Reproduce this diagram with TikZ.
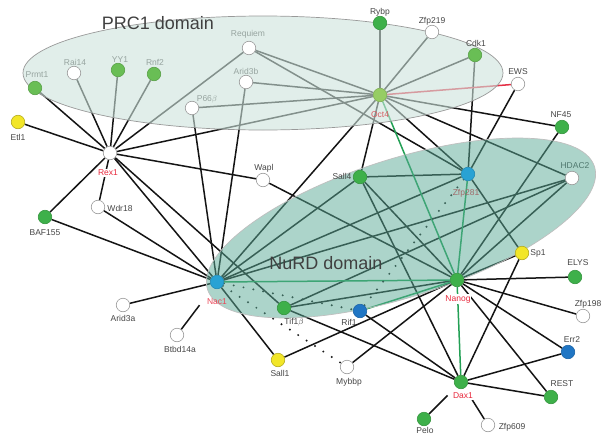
\documentclass[tikz,border=0pt]{standalone}
\usepackage{fontspec}
\setmainfont{Liberation Sans}
\definecolor{ngreen}{RGB}{62,176,74}
\definecolor{pgreen}{RGB}{105,190,85}
\definecolor{lgreen}{RGB}{150,205,100}
\definecolor{nblue}{RGB}{40,162,212}
\definecolor{dblue}{RGB}{32,118,196}
\definecolor{nyellow}{RGB}{242,230,40}
\definecolor{egreen}{RGB}{35,160,85}
\definecolor{ered}{RGB}{228,48,70}
\definecolor{lblred}{RGB}{232,40,60}
\definecolor{lblpink}{RGB}{215,95,100}
\definecolor{lblgray}{RGB}{70,70,70}
\definecolor{prcfill}{RGB}{205,227,220}
\definecolor{nurdfill}{RGB}{90,170,150}
\pgfdeclarelayer{edgelayer}
\pgfdeclarelayer{ovl}
\pgfsetlayers{edgelayer,ovl,main}
\tikzset{
  nd/.style={circle, minimum size=13.5pt, inner sep=0pt, line width=0.6pt},
  wn/.style={nd, fill=white, draw=black!40},
  gn/.style={nd, fill=ngreen, draw=ngreen!85!black},
  pgn/.style={nd, fill=pgreen, draw=pgreen!85!black},
  lgn/.style={nd, fill=lgreen, draw=lgreen!85!black},
  bn/.style={nd, fill=nblue, draw=nblue!85!black},
  dbn/.style={nd, fill=dblue, draw=dblue!85!black},
  yn/.style={nd, fill=nyellow, draw=nyellow!75!black},
  lbl/.style={font=\fontsize{8.5}{9}\selectfont, text=lblgray, inner sep=0.8pt},
  rlbl/.style={lbl, text=lblred},
  biglbl/.style={font=\fontsize{18}{20}\selectfont, text=black!75},
  ed/.style={line width=1.5pt, black!92},
  ged/.style={line width=1.5pt, egreen},
  red/.style={line width=1.5pt, ered},
  dotedge/.style={line width=2.2pt, line cap=round, dash pattern=on 0pt off 10pt, black!90},
}
\begin{document}
\begin{tikzpicture}[x=1pt,y=-1pt]
\useasboundingbox (0,0) rectangle (603,434);
% nodes
\node[pgn] (prmt1) at (35,88) {};
\node[wn] (rai14) at (74,73) {};
\node[pgn] (yy1) at (118,70) {};
\node[pgn] (rnf2) at (154,74) {};
\node[wn] (requiem) at (249,48) {};
\node[wn] (arid3b) at (246,82) {};
\node[wn] (p66b) at (192,108) {};
\node[gn] (rybp) at (380,23) {};
\node[wn] (zfp219) at (432,32) {};
\node[pgn] (cdk1) at (475,55) {};
\node[wn] (ews) at (518,84) {};
\node[lgn] (oct4) at (380,95) {};
\node[gn] (nf45) at (562,127) {};
\node[wn] (hdac2) at (572,178) {};
\node[gn] (sall4) at (360,177) {};
\node[bn] (zfp281) at (468,174) {};
\node[yn] (etl1) at (18,122) {};
\node[wn] (rex1) at (110,153) {};
\node[wn] (wapl) at (263,180) {};
\node[wn] (wdr18) at (98,207) {};
\node[gn] (baf155) at (45,217) {};
\node[bn] (nac1) at (217,282) {};
\node[wn] (arid3a) at (123,305) {};
\node[wn] (btbd14a) at (177,335) {};
\node[gn] (tif1b) at (284,308) {};
\node[dbn] (rif1) at (360,311) {};
\node[yn] (sall1) at (278,360) {};
\node[wn] (mybbp) at (347,367) {};
\node[gn] (nanog) at (457,280) {};
\node[yn] (sp1) at (522,253) {};
\node[gn] (elys) at (575,277) {};
\node[wn] (zfp198) at (583,316) {};
\node[dbn] (err2) at (568,352) {};
\node[gn] (dax1) at (461,382) {};
\node[gn] (rest) at (551,397) {};
\node[gn] (pelo) at (424,419) {};
\node[wn] (zfp609) at (488,425) {};

\begin{pgfonlayer}{edgelayer}
\fill[white] (0,0) rectangle (603,434);
\foreach \a/\b in {rex1/prmt1, rex1/rai14, rex1/yy1, rex1/rnf2, rex1/requiem, rex1/oct4,
  rex1/wapl, rex1/etl1, rex1/baf155, rex1/wdr18, rex1/nac1, rex1/tif1b,
  oct4/rybp, oct4/zfp219, oct4/cdk1, oct4/requiem, oct4/arid3b, oct4/p66b, oct4/nf45,
  oct4/hdac2, oct4/zfp281, oct4/sall4, oct4/nac1,
  requiem/zfp281, arid3b/nac1, p66b/nac1, cdk1/zfp281, ews/zfp281, nf45/nanog, hdac2/nanog,
  hdac2/tif1b, sall4/zfp281, sall4/nac1, sall4/nanog, sall4/dax1, zfp281/nac1, zfp281/sp1,
  wapl/nanog, wdr18/nac1, baf155/nac1, arid3a/nac1, nac1/sall1, nac1/hdac2,
  tif1b/nanog, tif1b/dax1, rif1/dax1, sall1/nanog, mybbp/nanog,
  nanog/sp1, nanog/elys, nanog/zfp198, nanog/err2, nanog/rest,
  dax1/sp1, dax1/err2, dax1/rest}
  \draw[ed] (\a) -- (\b);
\draw[ed, shorten >=22pt] (btbd14a) -- (nac1);
\draw[ed, shorten >=12pt] (pelo) -- (dax1);
\draw[ed, shorten >=14pt] (zfp609) -- (dax1);
\foreach \a/\b in {oct4/nanog, nac1/nanog, zfp281/nanog, rif1/nanog, nanog/dax1}
  \draw[ged] (\a) -- (\b);
\draw[red] (oct4) -- (ews);
\draw[dotedge] (nac1) -- (rif1);
\draw[dotedge] (nac1) -- (mybbp);
\draw[dotedge] (zfp281) -- (rif1);
% labels faded by the domains
\node[lbl] (lprmt1) at (37,75) {Prmt1};
\node[lbl] (lrai14) at (75,62) {Rai14};
\node[lbl] (lyy1) at (120,60) {YY1};
\node[lbl] (lrnf2) at (155,62) {Rnf2};
\node[lbl] (lrequiem) at (248,34) {Requiem};
\node[lbl] (larid3b) at (246,71) {Arid3b};
\node[lbl] (lp66b) at (207,99) {P66\(\beta\)};
\node[rlbl] (lzfp281) at (466,193) {Zfp281};
\node[lbl] (lhdac2) at (575,166) {HDAC2};
\end{pgfonlayer}

\begin{pgfonlayer}{ovl}
\draw[fill=prcfill, fill opacity=0.6, draw=black!40, line width=0.7pt] (263,73) ellipse [x radius=240, y radius=57];
\draw[fill=nurdfill, fill opacity=0.5, draw=black!25, line width=0.7pt, rotate around={17.6:(401,228)}] (401,228) ellipse [x radius=203, y radius=69];
\end{pgfonlayer}

% domain labels
\node[biglbl] (prc1lbl) at (158,23) {PRC1 domain};
\node[biglbl] (nurdlbl) at (326,263) {NuRD domain};
% labels
\node[lbl, text=lblpink] (loct4) at (380,115) {Oct4};
\node[lbl] (letl1) at (18,137) {Etl1};
\node[rlbl, fill=white] (lrex1) at (108,173) {Rex1};
\node[lbl] (lwapl) at (264,168) {Wapl};
\node[lbl] (lwdr18) at (120,208) {Wdr18};
\node[lbl] (lrybp) at (380,12) {Rybp};
\node[lbl] (lzfp219) at (432,21) {Zfp219};
\node[lbl] (lcdk1) at (476,43) {Cdk1};
\node[lbl] (lews) at (518,72) {EWS};
\node[lbl] (lnf45) at (561,115) {NF45};
\node[lbl] (lsall4) at (342,176) {Sall4};
\node[lbl] (lbaf155) at (45,233) {BAF155};
\node[lbl] (larid3a) at (123,318) {Arid3a};
\node[lbl] (lbtbd14a) at (180,349) {Btbd14a};
\node[rlbl, text=lblred!85] (lnac1) at (217,302) {Nac1};
\node[lbl] (ltif1b) at (294,322) {Tif1\(\beta\)};
\node[lbl] (lrif1) at (349,322) {Rif1};
\node[lbl] (lsall1) at (280,373) {Sall1};
\node[lbl] (lmybbp) at (349,382) {Mybbp};
\node[rlbl, fill=white] (lnanog) at (458,299) {Nanog};
\node[lbl] (lsp1) at (538,253) {Sp1};
\node[lbl] (lelys) at (578,263) {ELYS};
\node[lbl] (lzfp198) at (588,304) {Zfp198};
\node[lbl] (lerr2) at (572,340) {Err2};
\node[rlbl, fill=white] (ldax1) at (463,396) {Dax1};
\node[lbl] (lrest) at (562,384) {REST};
\node[lbl] (lpelo) at (425,430) {Pelo};
\node[lbl] (lzfp609) at (512,427) {Zfp609};
\end{tikzpicture}
\end{document}
